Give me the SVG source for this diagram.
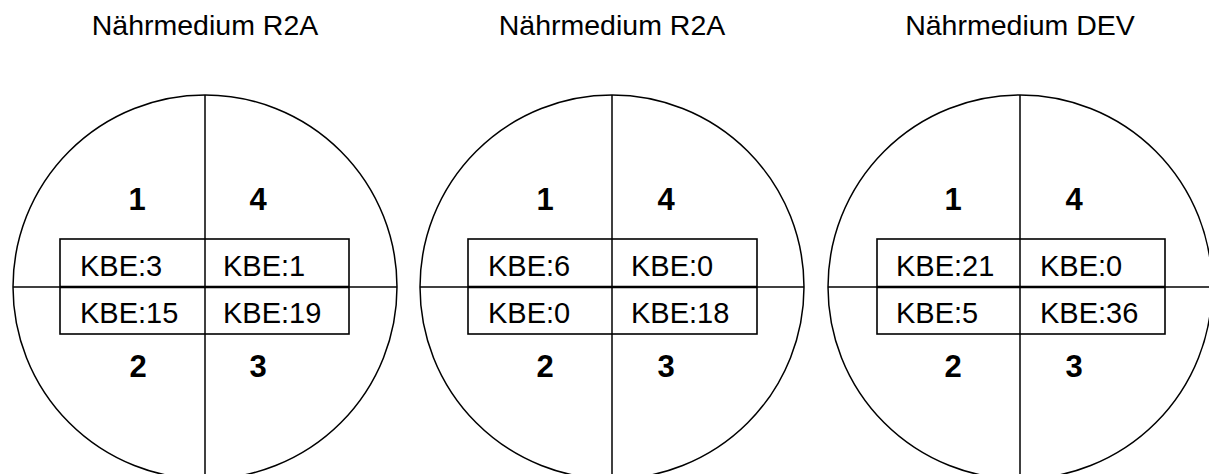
<svg xmlns="http://www.w3.org/2000/svg" width="1209" height="474" viewBox="0 0 1209 474">
  <style>
    .dish { fill: none; stroke: #000; stroke-width: 1.5; }
    .axis { stroke: #000; stroke-width: 1.5; }
    .box { fill: none; stroke: #000; stroke-width: 1.6; }
    .mid { stroke: #000; stroke-width: 2.4; }
    .title { font-family: "Liberation Sans", Arial, sans-serif; font-size: 28.5px; fill: #000; text-anchor: middle; }
    .quad { font-family: "Liberation Sans", Arial, sans-serif; font-size: 31px; font-weight: bold; fill: #000; text-anchor: middle; }
    .kbe { font-family: "Liberation Sans", Arial, sans-serif; font-size: 29px; fill: #000; }
  </style>
  <rect width="1209" height="474" fill="#fff"/>

  <!-- plate 1: R2A -->
  <g id="plate-1">
    <text class="title" x="205" y="35">Nährmedium R2A</text>
    <circle class="dish" cx="205" cy="287" r="192"/>
    <line class="axis" x1="205" y1="95" x2="205" y2="474"/>
    <line class="axis" x1="13" y1="287" x2="397" y2="287"/>
    <rect class="box" x="60" y="239" width="289" height="95"/>
    <line class="mid" x1="60" y1="287" x2="349" y2="287"/>
    <text class="quad" x="137" y="210">1</text>
    <text class="quad" x="258" y="210">4</text>
    <text class="quad" x="138" y="377">2</text>
    <text class="quad" x="258" y="377">3</text>
    <text class="kbe" x="80" y="276">KBE:3</text>
    <text class="kbe" x="223" y="276">KBE:1</text>
    <text class="kbe" x="80" y="323">KBE:15</text>
    <text class="kbe" x="223" y="323">KBE:19</text>
  </g>

  <!-- plate 2: R2A -->
  <g id="plate-2">
    <text class="title" x="612" y="35">Nährmedium R2A</text>
    <circle class="dish" cx="612" cy="287" r="192"/>
    <line class="axis" x1="612" y1="95" x2="612" y2="474"/>
    <line class="axis" x1="420" y1="287" x2="804" y2="287"/>
    <rect class="box" x="468" y="239" width="289" height="95"/>
    <line class="mid" x1="468" y1="287" x2="757" y2="287"/>
    <text class="quad" x="545" y="210">1</text>
    <text class="quad" x="666" y="210">4</text>
    <text class="quad" x="545" y="377">2</text>
    <text class="quad" x="666" y="377">3</text>
    <text class="kbe" x="488" y="276">KBE:6</text>
    <text class="kbe" x="631" y="276">KBE:0</text>
    <text class="kbe" x="488" y="323">KBE:0</text>
    <text class="kbe" x="631" y="323">KBE:18</text>
  </g>

  <!-- plate 3: DEV -->
  <g id="plate-3">
    <text class="title" x="1020" y="35">Nährmedium DEV</text>
    <circle class="dish" cx="1020" cy="287" r="192"/>
    <line class="axis" x1="1020" y1="95" x2="1020" y2="474"/>
    <line class="axis" x1="828" y1="287" x2="1209" y2="287"/>
    <rect class="box" x="877" y="239" width="288" height="95"/>
    <line class="mid" x1="877" y1="287" x2="1165" y2="287"/>
    <text class="quad" x="953" y="210">1</text>
    <text class="quad" x="1074" y="210">4</text>
    <text class="quad" x="953" y="377">2</text>
    <text class="quad" x="1074" y="377">3</text>
    <text class="kbe" x="896" y="276">KBE:21</text>
    <text class="kbe" x="1040" y="276">KBE:0</text>
    <text class="kbe" x="896" y="323">KBE:5</text>
    <text class="kbe" x="1040" y="323">KBE:36</text>
  </g>

  <g id="connectors"/>
</svg>
